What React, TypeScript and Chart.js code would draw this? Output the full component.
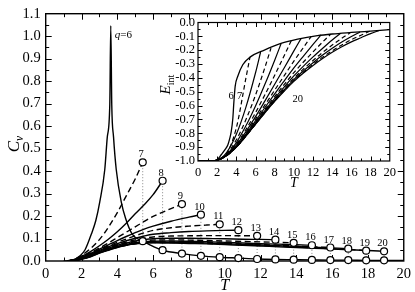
import React, { useEffect, useRef } from "react";
import { Chart, registerables } from "chart.js";
Chart.register(...registerables);

// ---------- main plot: specific heat Cv(T) ----------
const Q_LIST = [7, 8, 9, 10, 11, 12, 13, 14, 15, 16, 17, 18, 19, 20];
const END_T = [5.42, 6.53, 7.61, 8.67, 9.72, 10.76, 11.81, 12.83, 13.85, 14.87, 15.9, 16.9, 17.9, 18.9];
const END_CV = [0.439, 0.357, 0.253, 0.206, 0.163, 0.137, 0.112, 0.095, 0.081, 0.07, 0.06, 0.055, 0.046, 0.043];
const LOW_CV = [0.088, 0.048, 0.033, 0.023, 0.017, 0.013, 0.009, 0.007, 0.006, 0.005, 0.004, 0.004, 0.003, 0.003];

const T6 = [1.0, 1.3, 1.6, 1.9, 2.2, 2.55, 2.8, 3.02, 3.3, 3.44, 3.58, 3.635, 3.69, 3.79, 3.94, 4.22, 4.46, 4.83, 5.42, 6.0, 6.53, 7.61, 8.67, 9.72, 10.76, 11.81, 12.83, 13.85, 14.87, 15.9, 16.9, 17.9, 18.9, 20];
const CV6 = [0, 0.001, 0.006, 0.022, 0.05, 0.12, 0.18, 0.263, 0.407, 0.551, 0.695, 1.047, 0.695, 0.551, 0.407, 0.263, 0.19, 0.12, 0.088, 0.065, 0.048, 0.033, 0.023, 0.017, 0.013, 0.009, 0.007, 0.006, 0.005, 0.004, 0.004, 0.003, 0.003, 0.002];

const T_GRID = [1.2, 1.6, 2, 2.5, 3, 3.5, 4, 4.5, 5, 5.5, 6, 7, 8, 9, 10, 11, 12, 13, 14, 15, 16, 17, 18];
const CV7 = [0, 0.008, 0.025, 0.055, 0.095, 0.15, 0.215, 0.29, 0.365];
const CV8 = [0, 0.007, 0.02, 0.042, 0.068, 0.097, 0.13, 0.168, 0.21, 0.25, 0.295];
const CV9 = [0, 0.006, 0.018, 0.037, 0.058, 0.08, 0.104, 0.128, 0.152, 0.176, 0.198, 0.233];
const CV10 = [0, 0.005, 0.016, 0.034, 0.053, 0.072, 0.091, 0.109, 0.126, 0.142, 0.155, 0.177, 0.195];
const CV11 = [0, 0.005, 0.015, 0.032, 0.05, 0.067, 0.083, 0.098, 0.112, 0.125, 0.136, 0.148, 0.155, 0.16];
const CV12 = [0, 0.004, 0.014, 0.03, 0.047, 0.063, 0.077, 0.09, 0.101, 0.111, 0.119, 0.126, 0.131, 0.134, 0.136];
const CV13 = [0, 0.004, 0.013, 0.029, 0.045, 0.06, 0.073, 0.084, 0.094, 0.102, 0.107, 0.111, 0.112, 0.113, 0.113, 0.112];
const CV14 = [0, 0.004, 0.012, 0.027, 0.043, 0.057, 0.07, 0.08, 0.089, 0.095, 0.099, 0.101, 0.101, 0.1, 0.099, 0.097, 0.096];
const CV15 = [0, 0.003, 0.011, 0.025, 0.041, 0.055, 0.067, 0.077, 0.085, 0.09, 0.093, 0.094, 0.093, 0.091, 0.089, 0.087, 0.085, 0.083];
const CV16 = [0, 0.003, 0.01, 0.023, 0.039, 0.053, 0.065, 0.074, 0.081, 0.086, 0.088, 0.089, 0.088, 0.086, 0.083, 0.08, 0.077, 0.075, 0.072];
const CV17 = [0, 0.003, 0.009, 0.022, 0.038, 0.051, 0.063, 0.072, 0.079, 0.083, 0.085, 0.085, 0.084, 0.082, 0.079, 0.076, 0.073, 0.07, 0.066, 0.063];
const CV18 = [0, 0.003, 0.009, 0.021, 0.037, 0.05, 0.062, 0.071, 0.078, 0.082, 0.083, 0.083, 0.082, 0.08, 0.077, 0.074, 0.071, 0.068, 0.065, 0.061, 0.058];
const CV19 = [0, 0.002, 0.008, 0.02, 0.036, 0.049, 0.061, 0.07, 0.077, 0.08, 0.082, 0.082, 0.08, 0.078, 0.075, 0.072, 0.069, 0.066, 0.062, 0.058, 0.055, 0.051];
const CV20 = [0, 0.002, 0.008, 0.019, 0.035, 0.048, 0.06, 0.07, 0.076, 0.079, 0.081, 0.08, 0.078, 0.076, 0.073, 0.07, 0.067, 0.063, 0.06, 0.057, 0.053, 0.05, 0.047];
const CV_SERIES = [CV7, CV8, CV9, CV10, CV11, CV12, CV13, CV14, CV15, CV16, CV17, CV18, CV19, CV20];

// ---------- inset: internal energy E_int(T) ----------
const ET6 = [0, 1.5, 2, 2.42, 2.8, 3.11, 3.3, 3.46, 3.63, 3.74, 3.88, 4.15, 4.67, 5.42, 6.92, 8.65, 10.4, 12.46, 14, 16, 18, 20];
const E6 = [-1, -1, -0.99, -0.955, -0.92, -0.884, -0.84, -0.79, -0.695, -0.577, -0.459, -0.388, -0.305, -0.25, -0.199, -0.151, -0.12, -0.095, -0.083, -0.072, -0.062, -0.052];
const ET_GRID = [0, 1.5, 2, 3, 4, 5, 6, 7, 8, 9, 10, 11, 12, 13, 14, 15, 16, 17, 18];
const END_E = [-0.25, -0.213, -0.185, -0.152, -0.132, -0.115, -0.1, -0.09, -0.084, -0.078, -0.073, -0.068, -0.063, -0.058];
const E7 = [-1, -1, -0.99, -0.945, -0.76, -0.4];
const E8 = [-1, -1, -0.995, -0.937, -0.807, -0.611, -0.363];
const E9 = [-1, -1, -0.995, -0.947, -0.847, -0.701, -0.524, -0.32];
const E10 = [-1, -1, -0.995, -0.952, -0.867, -0.746, -0.603, -0.443, -0.272];
const E11 = [-1, -1, -0.995, -0.955, -0.879, -0.773, -0.651, -0.519, -0.381, -0.238];
const E12 = [-1, -1, -0.995, -0.957, -0.886, -0.789, -0.68, -0.564, -0.446, -0.327, -0.205];
const E13 = [-1, -1, -0.995, -0.958, -0.891, -0.799, -0.698, -0.593, -0.488, -0.383, -0.279, -0.18];
const E14 = [-1, -1, -0.995, -0.959, -0.894, -0.806, -0.711, -0.612, -0.515, -0.421, -0.328, -0.242, -0.158];
const E15 = [-1, -1, -0.995, -0.96, -0.896, -0.811, -0.719, -0.625, -0.535, -0.447, -0.362, -0.285, -0.212, -0.141];
const E16 = [-1, -1, -0.995, -0.96, -0.898, -0.814, -0.725, -0.635, -0.548, -0.465, -0.386, -0.315, -0.248, -0.186, -0.126];
const E17 = [-1, -1, -0.995, -0.96, -0.899, -0.817, -0.729, -0.641, -0.557, -0.477, -0.402, -0.336, -0.274, -0.216, -0.163, -0.114];
const E18 = [-1, -1, -0.995, -0.96, -0.9, -0.819, -0.732, -0.645, -0.563, -0.485, -0.412, -0.349, -0.29, -0.235, -0.186, -0.141, -0.101];
const E19 = [-1, -1, -0.995, -0.96, -0.9, -0.82, -0.734, -0.649, -0.567, -0.491, -0.42, -0.359, -0.302, -0.25, -0.204, -0.162, -0.124, -0.092];
const E20 = [-1, -1, -0.995, -0.96, -0.9, -0.82, -0.735, -0.65, -0.57, -0.495, -0.425, -0.365, -0.31, -0.26, -0.215, -0.175, -0.14, -0.11, -0.08];
const E_SERIES = [E7, E8, E9, E10, E11, E12, E13, E14, E15, E16, E17, E18, E19, E20];

const INSET_LABELS = ["6", "7", "20"];
const INSET_LABEL_T = [3.46, 4.33, 10.4];
const INSET_LABEL_E = [-0.534, -0.534, -0.553];

// pick a Times-like serif that is really installed; shrink sizes if only a wide serif exists
function pickSerif(): { family: string; k: number } {
  const ctx = document.createElement("canvas").getContext("2d") as CanvasRenderingContext2D;
  const probe = "0.0 1234 Tq";
  const cands = ["Liberation Serif", "Times New Roman", "Tinos", "Nimbus Roman", "Nimbus Roman No9 L", "FreeSerif", "Times", "Noto Serif", "DejaVu Serif"];
  const w = (f: string) => {
    ctx.font = f;
    return ctx.measureText(probe).width;
  };
  const mono = w("40px monospace");
  const sans = w("40px sans-serif");
  let fam = "serif";
  for (const f of cands) {
    if (w(`40px "${f}", monospace`) !== mono && w(`40px "${f}", sans-serif`) !== sans) {
      fam = f;
      break;
    }
  }
  ctx.font = `40px "${fam}", serif`;
  const width00 = ctx.measureText("0.0").width;
  let k = (1.25 * 40) / width00;
  if (k > 1.05) k = 1.05;
  if (k < 0.86) k = 0.86;
  return { family: `"${fam}", serif`, k };
}

function toPoints(xs: number[], ys: number[]) {
  return ys.map((y, i) => ({ x: xs[i], y }));
}

function lineDs(data: any[], dashed: boolean, width: number, dash: number[]) {
  return {
    type: "line",
    data,
    borderColor: "#000",
    borderWidth: width,
    borderDash: dashed ? dash : [],
    pointRadius: 0,
    pointHoverRadius: 0,
    fill: false,
    cubicInterpolationMode: "monotone",
  };
}

function framePlugin(xMajor: number, xMinor: number, yMajor: number, yMinor: number, lMaj: number, lMin: number, lw: number) {
  return {
    id: "frameTicks",
    beforeDatasetsDraw(chart: any) {
      const ctx = chart.ctx;
      const a = chart.chartArea;
      const xs = chart.scales.x;
      const ys = chart.scales.y;
      ctx.save();
      ctx.strokeStyle = "#000";
      ctx.lineWidth = lw;
      ctx.strokeRect(a.left, a.top, a.right - a.left, a.bottom - a.top);
      ctx.lineWidth = 1;
      ctx.beginPath();
      const nx = Math.round((xs.max - xs.min) / xMinor);
      for (let i = 1; i < nx; i++) {
        const v = xs.min + i * xMinor;
        const r = v / xMajor;
        const L = Math.abs(r - Math.round(r)) < 1e-6 ? lMaj : lMin;
        const p = Math.round(xs.getPixelForValue(v)) + 0.5;
        ctx.moveTo(p, a.bottom);
        ctx.lineTo(p, a.bottom - L);
        ctx.moveTo(p, a.top);
        ctx.lineTo(p, a.top + L);
      }
      const ny = Math.round((ys.max - ys.min) / yMinor);
      for (let i = 1; i < ny; i++) {
        const v = ys.min + i * yMinor;
        const r = (i * yMinor) / yMajor;
        const L = Math.abs(r - Math.round(r)) < 1e-6 ? lMaj : lMin;
        const p = Math.round(ys.getPixelForValue(v)) + 0.5;
        ctx.moveTo(a.left, p);
        ctx.lineTo(a.left + L, p);
        ctx.moveTo(a.right, p);
        ctx.lineTo(a.right - L, p);
      }
      ctx.stroke();
      ctx.restore();
    },
  };
}

function mainTextPlugin(F: string, k: number) {
  return {
    id: "mainText",
    afterDatasetsDraw(chart: any) {
      const ctx = chart.ctx;
      const xs = chart.scales.x;
      const ys = chart.scales.y;
      const a = chart.chartArea;
      ctx.save();
      ctx.fillStyle = "#000";
      ctx.font = `${10.5 * k}px ${F}`;
      ctx.textAlign = "center";
      ctx.textBaseline = "alphabetic";
      Q_LIST.forEach((q, i) => {
        const px = xs.getPixelForValue(END_T[i]);
        const py = ys.getPixelForValue(END_CV[i]);
        ctx.fillText(String(q), px - 1.5, py - 5);
      });
      const px6 = xs.getPixelForValue(T6[11]) + 4;
      const py6 = ys.getPixelForValue(CV6[11]) + 12;
      ctx.textAlign = "left";
      ctx.font = `italic ${11 * k}px ${F}`;
      ctx.fillText("q", px6, py6);
      const wq = ctx.measureText("q").width;
      ctx.font = `${11 * k}px ${F}`;
      ctx.fillText("=6", px6 + wq, py6);
      ctx.font = `italic ${16 * k}px ${F}`;
      ctx.textAlign = "center";
      ctx.fillText("T", (a.left + a.right) / 2, 290);
      ctx.translate(15, (a.top + a.bottom) / 2 + 7);
      ctx.rotate(-Math.PI / 2);
      ctx.textAlign = "left";
      ctx.font = `italic ${17 * k}px ${F}`;
      ctx.fillText("C", -8, 4);
      const wc = ctx.measureText("C").width;
      ctx.font = `italic ${11.5 * k}px ${F}`;
      ctx.fillText("v", -8 + wc, 8);
      ctx.restore();
    },
  };
}

function insetTextPlugin(F: string, k: number) {
  return {
    id: "insetText",
    afterDatasetsDraw(chart: any) {
      const ctx = chart.ctx;
      const xs = chart.scales.x;
      const ys = chart.scales.y;
      const a = chart.chartArea;
      ctx.save();
      ctx.fillStyle = "#000";
      ctx.font = `${10.5 * k}px ${F}`;
      ctx.textAlign = "center";
      ctx.textBaseline = "middle";
      INSET_LABELS.forEach((s, i) => {
        ctx.fillText(s, xs.getPixelForValue(INSET_LABEL_T[i]), ys.getPixelForValue(INSET_LABEL_E[i]));
      });
      ctx.textBaseline = "alphabetic";
      ctx.font = `italic ${14 * k}px ${F}`;
      ctx.fillText("T", (a.left + a.right) / 2, a.bottom + 26);
      ctx.translate(a.left - 28, a.top + 72);
      ctx.rotate(-Math.PI / 2);
      ctx.textAlign = "left";
      ctx.font = `italic ${15 * k}px ${F}`;
      ctx.fillText("E", 0, 0);
      const we = ctx.measureText("E").width;
      ctx.font = `${10 * k}px ${F}`;
      ctx.fillText("int", we, 3.5);
      ctx.restore();
    },
  };
}

export default function App() {
  const mainRef = useRef<HTMLCanvasElement>(null);
  const insetRef = useRef<HTMLCanvasElement>(null);

  useEffect(() => {
    const { family: F, k } = pickSerif();

    const circleDs = (ys: number[]) => ({
      type: "line",
      data: toPoints(END_T, ys),
      showLine: false,
      pointRadius: 3.5,
      pointHoverRadius: 3.5,
      pointBorderWidth: 1.2,
      pointBackgroundColor: "#fff",
      pointBorderColor: "#000",
      clip: false,
    });

    const mainDatasets: any[] = [circleDs(END_CV), circleDs(LOW_CV)];
    mainDatasets.push(lineDs(toPoints(T6, CV6), false, 1.4, []));
    Q_LIST.forEach((q, i) => {
      const pts = toPoints(T_GRID, CV_SERIES[i]);
      pts.push({ x: END_T[i], y: END_CV[i] });
      mainDatasets.push(lineDs(pts, q % 2 === 1, 1.4, [6, 3.5]));
    });
    Q_LIST.forEach((q, i) => {
      mainDatasets.push({
        type: "line",
        data: [
          { x: END_T[i], y: LOW_CV[i] },
          { x: END_T[i], y: END_CV[i] },
        ],
        borderColor: "#888",
        borderWidth: 1,
        borderDash: [1, 2],
        pointRadius: 0,
        pointHoverRadius: 0,
        fill: false,
      });
    });

    const axis = (min: number, max: number, step: number, size: number, pad: number, fmt: (v: number) => string, fit: (s: any) => void) => ({
      type: "linear",
      min,
      max,
      grid: { display: false, drawTicks: false },
      border: { display: false },
      ticks: {
        stepSize: step,
        padding: pad,
        color: "#000",
        autoSkip: false,
        maxRotation: 0,
        font: { family: F, size: size * k },
        callback: (v: any) => fmt(Number(v)),
      },
      afterFit: fit,
    });

    const mainChart = new Chart(mainRef.current as HTMLCanvasElement, {
      type: "line",
      data: { datasets: mainDatasets },
      options: {
        animation: false,
        responsive: false,
        events: [],
        layout: { autoPadding: false, padding: { left: 0, top: 6, right: 9.3, bottom: 0 } },
        plugins: { legend: { display: false }, tooltip: { enabled: false } },
        scales: {
          x: axis(0, 20, 2, 14.5, 4, (v) => String(v), (s: any) => { s.height = 31; }),
          y: axis(0, 1.1, 0.1, 14.5, 5, (v) => v.toFixed(1), (s: any) => { s.width = 45.7; }),
        },
      } as any,
      plugins: [framePlugin(2, 1, 0.1, 0.05, 6, 3.5, 1.4), mainTextPlugin(F, k)],
    });

    const insetDatasets: any[] = [lineDs(toPoints(ET6, E6), false, 1.3, [])];
    Q_LIST.forEach((q, i) => {
      const pts = toPoints(ET_GRID, E_SERIES[i]);
      pts.push({ x: END_T[i], y: END_E[i] });
      insetDatasets.push(lineDs(pts, q % 2 === 1, 1.2, [4.5, 3]));
    });

    const insetChart = new Chart(insetRef.current as HTMLCanvasElement, {
      type: "line",
      data: { datasets: insetDatasets },
      options: {
        animation: false,
        responsive: false,
        events: [],
        layout: { autoPadding: false, padding: { left: 0, top: 8, right: 9.3, bottom: 0 } },
        plugins: { legend: { display: false }, tooltip: { enabled: false } },
        scales: {
          x: axis(0, 20, 2, 12.5, 4, (v) => String(v), (s: any) => { s.height = 33; }),
          y: axis(-1, 0, 0.1, 12.5, 3, (v) => v.toFixed(1), (s: any) => { s.width = 48; }),
        },
      } as any,
      plugins: [framePlugin(2, 1, 0.1, 0.05, 4.5, 2.5, 1.2), insetTextPlugin(F, k)],
    });

    return () => {
      mainChart.destroy();
      insetChart.destroy();
    };
  }, []);

  return (
    <div style={{ position: "fixed", left: 0, top: 0, width: 415, height: 292, background: "#fff" }}>
      <canvas ref={mainRef} width={415} height={292} style={{ position: "absolute", left: 0, top: 0, width: 415, height: 292 }} />
      <canvas ref={insetRef} width={250} height={182} style={{ position: "absolute", left: 150, top: 12, width: 250, height: 182 }} />
    </div>
  );
}
